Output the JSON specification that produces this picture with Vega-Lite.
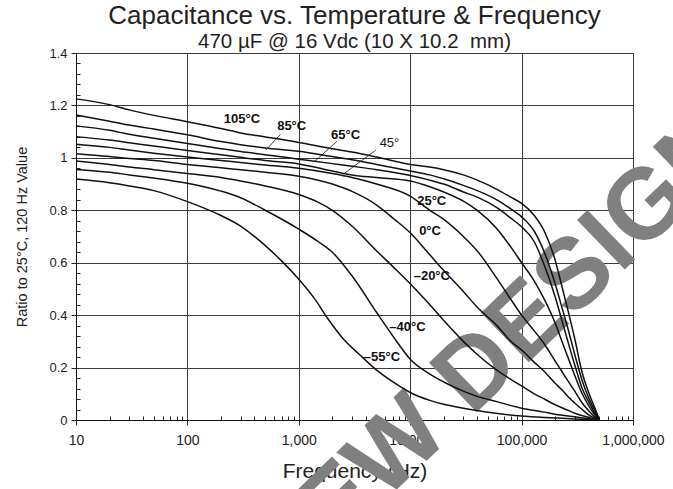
{
  "$schema": "https://vega.github.io/schema/vega-lite/v6.json",
  "width": 557,
  "height": 367,
  "autosize": {"type": "none"},
  "padding": {"left": 76, "top": 53, "right": 40, "bottom": 69},
  "background": "white",
  "title": {
    "text": "Capacitance vs. Temperature & Frequency",
    "subtitle": "470 µF @ 16 Vdc (10 X 10.2\u00a0 mm)",
    "font": "Liberation Sans",
    "subtitleFont": "Liberation Sans",
    "fontSize": 26,
    "subtitleFontSize": 20.5,
    "fontWeight": "normal",
    "subtitleFontWeight": "normal",
    "color": "#222222",
    "subtitleColor": "#222222",
    "anchor": "middle",
    "frame": "group",
    "offset": -6,
    "subtitlePadding": 3
  },
  "config": {"view": {"stroke": "#444444"}, "font": "Liberation Sans"},
  "datasets": {
    "curves": [
      {"s":"105","f":10,"v":1.225},{"s":"105","f":20,"v":1.203},{"s":"105","f":30,"v":1.183},{"s":"105","f":50,"v":1.162},{"s":"105","f":100,"v":1.138},{"s":"105","f":200,"v":1.112},{"s":"105","f":300,"v":1.095},{"s":"105","f":500,"v":1.08},{"s":"105","f":1000,"v":1.059},{"s":"105","f":2000,"v":1.035},{"s":"105","f":3000,"v":1.022},{"s":"105","f":5000,"v":1.003},{"s":"105","f":10000,"v":0.975},{"s":"105","f":15000,"v":0.965},{"s":"105","f":20000,"v":0.955},{"s":"105","f":30000,"v":0.935},{"s":"105","f":40000,"v":0.915},{"s":"105","f":60000,"v":0.88},{"s":"105","f":80000,"v":0.85},{"s":"105","f":100000,"v":0.826},{"s":"105","f":130000,"v":0.78},{"s":"105","f":160000,"v":0.72},{"s":"105","f":200000,"v":0.61},{"s":"105","f":230000,"v":0.51},{"s":"105","f":260000,"v":0.42},{"s":"105","f":300000,"v":0.31},{"s":"105","f":350000,"v":0.18},{"s":"105","f":400000,"v":0.105},{"s":"105","f":450000,"v":0.05},{"s":"105","f":500000,"v":0},
      {"s":"85","f":10,"v":1.164},{"s":"85","f":20,"v":1.14},{"s":"85","f":30,"v":1.125},{"s":"85","f":50,"v":1.11},{"s":"85","f":100,"v":1.088},{"s":"85","f":200,"v":1.062},{"s":"85","f":300,"v":1.05},{"s":"85","f":500,"v":1.038},{"s":"85","f":1000,"v":1.025},{"s":"85","f":2000,"v":1.005},{"s":"85","f":3000,"v":0.993},{"s":"85","f":5000,"v":0.975},{"s":"85","f":10000,"v":0.95},{"s":"85","f":15000,"v":0.935},{"s":"85","f":20000,"v":0.92},{"s":"85","f":30000,"v":0.895},{"s":"85","f":40000,"v":0.875},{"s":"85","f":60000,"v":0.84},{"s":"85","f":80000,"v":0.805},{"s":"85","f":100000,"v":0.775},{"s":"85","f":130000,"v":0.72},{"s":"85","f":160000,"v":0.64},{"s":"85","f":200000,"v":0.52},{"s":"85","f":230000,"v":0.43},{"s":"85","f":260000,"v":0.35},{"s":"85","f":300000,"v":0.25},{"s":"85","f":350000,"v":0.15},{"s":"85","f":400000,"v":0.085},{"s":"85","f":450000,"v":0.04},{"s":"85","f":500000,"v":0},
      {"s":"65","f":10,"v":1.122},{"s":"65","f":20,"v":1.105},{"s":"65","f":30,"v":1.09},{"s":"65","f":50,"v":1.075},{"s":"65","f":100,"v":1.055},{"s":"65","f":200,"v":1.035},{"s":"65","f":300,"v":1.024},{"s":"65","f":500,"v":1.012},{"s":"65","f":1000,"v":0.995},{"s":"65","f":2000,"v":0.978},{"s":"65","f":3000,"v":0.968},{"s":"65","f":5000,"v":0.955},{"s":"65","f":10000,"v":0.933},{"s":"65","f":15000,"v":0.915},{"s":"65","f":20000,"v":0.9},{"s":"65","f":30000,"v":0.87},{"s":"65","f":40000,"v":0.85},{"s":"65","f":60000,"v":0.81},{"s":"65","f":80000,"v":0.77},{"s":"65","f":100000,"v":0.737},{"s":"65","f":130000,"v":0.68},{"s":"65","f":160000,"v":0.59},{"s":"65","f":200000,"v":0.47},{"s":"65","f":230000,"v":0.38},{"s":"65","f":260000,"v":0.3},{"s":"65","f":300000,"v":0.21},{"s":"65","f":350000,"v":0.12},{"s":"65","f":400000,"v":0.07},{"s":"65","f":450000,"v":0.03},{"s":"65","f":500000,"v":0},
      {"s":"45","f":10,"v":1.081},{"s":"45","f":20,"v":1.068},{"s":"45","f":30,"v":1.058},{"s":"45","f":50,"v":1.045},{"s":"45","f":100,"v":1.028},{"s":"45","f":200,"v":1.012},{"s":"45","f":300,"v":1.002},{"s":"45","f":500,"v":0.99},{"s":"45","f":1000,"v":0.977},{"s":"45","f":2000,"v":0.95},{"s":"45","f":3000,"v":0.935},{"s":"45","f":5000,"v":0.925},{"s":"45","f":10000,"v":0.912},{"s":"45","f":15000,"v":0.89},{"s":"45","f":20000,"v":0.87},{"s":"45","f":30000,"v":0.835},{"s":"45","f":40000,"v":0.8},{"s":"45","f":60000,"v":0.73},{"s":"45","f":80000,"v":0.66},{"s":"45","f":100000,"v":0.6},{"s":"45","f":130000,"v":0.53},{"s":"45","f":160000,"v":0.46},{"s":"45","f":200000,"v":0.37},{"s":"45","f":230000,"v":0.3},{"s":"45","f":260000,"v":0.24},{"s":"45","f":300000,"v":0.17},{"s":"45","f":350000,"v":0.1},{"s":"45","f":400000,"v":0.055},{"s":"45","f":450000,"v":0.022},{"s":"45","f":500000,"v":0},
      {"s":"25","f":10,"v":1.052},{"s":"25","f":20,"v":1.04},{"s":"25","f":30,"v":1.03},{"s":"25","f":50,"v":1.018},{"s":"25","f":100,"v":1.003},{"s":"25","f":200,"v":0.99},{"s":"25","f":300,"v":0.982},{"s":"25","f":500,"v":0.973},{"s":"25","f":1000,"v":0.96},{"s":"25","f":2000,"v":0.94},{"s":"25","f":3000,"v":0.925},{"s":"25","f":5000,"v":0.9},{"s":"25","f":10000,"v":0.854},{"s":"25","f":15000,"v":0.8},{"s":"25","f":20000,"v":0.765},{"s":"25","f":30000,"v":0.7},{"s":"25","f":40000,"v":0.645},{"s":"25","f":60000,"v":0.54},{"s":"25","f":80000,"v":0.46},{"s":"25","f":100000,"v":0.4},{"s":"25","f":130000,"v":0.34},{"s":"25","f":160000,"v":0.29},{"s":"25","f":200000,"v":0.225},{"s":"25","f":230000,"v":0.185},{"s":"25","f":260000,"v":0.15},{"s":"25","f":300000,"v":0.11},{"s":"25","f":350000,"v":0.065},{"s":"25","f":400000,"v":0.035},{"s":"25","f":450000,"v":0.013},{"s":"25","f":500000,"v":0},
      {"s":"0","f":10,"v":1.016},{"s":"0","f":20,"v":1.005},{"s":"0","f":30,"v":0.998},{"s":"0","f":50,"v":0.99},{"s":"0","f":100,"v":0.975},{"s":"0","f":200,"v":0.962},{"s":"0","f":300,"v":0.955},{"s":"0","f":500,"v":0.945},{"s":"0","f":1000,"v":0.93},{"s":"0","f":2000,"v":0.9},{"s":"0","f":3000,"v":0.872},{"s":"0","f":5000,"v":0.82},{"s":"0","f":7000,"v":0.77},{"s":"0","f":10000,"v":0.714},{"s":"0","f":15000,"v":0.63},{"s":"0","f":20000,"v":0.57},{"s":"0","f":30000,"v":0.49},{"s":"0","f":40000,"v":0.43},{"s":"0","f":60000,"v":0.36},{"s":"0","f":80000,"v":0.3},{"s":"0","f":100000,"v":0.267},{"s":"0","f":130000,"v":0.22},{"s":"0","f":160000,"v":0.185},{"s":"0","f":200000,"v":0.14},{"s":"0","f":230000,"v":0.115},{"s":"0","f":260000,"v":0.09},{"s":"0","f":300000,"v":0.065},{"s":"0","f":350000,"v":0.04},{"s":"0","f":400000,"v":0.02},{"s":"0","f":450000,"v":0.008},{"s":"0","f":500000,"v":0},
      {"s":"-20","f":10,"v":0.988},{"s":"-20","f":20,"v":0.975},{"s":"-20","f":30,"v":0.965},{"s":"-20","f":50,"v":0.955},{"s":"-20","f":100,"v":0.94},{"s":"-20","f":200,"v":0.925},{"s":"-20","f":300,"v":0.912},{"s":"-20","f":500,"v":0.893},{"s":"-20","f":1000,"v":0.86},{"s":"-20","f":1500,"v":0.83},{"s":"-20","f":2000,"v":0.8},{"s":"-20","f":3000,"v":0.74},{"s":"-20","f":5000,"v":0.645},{"s":"-20","f":7000,"v":0.585},{"s":"-20","f":10000,"v":0.52},{"s":"-20","f":15000,"v":0.44},{"s":"-20","f":20000,"v":0.38},{"s":"-20","f":30000,"v":0.3},{"s":"-20","f":40000,"v":0.25},{"s":"-20","f":60000,"v":0.19},{"s":"-20","f":80000,"v":0.155},{"s":"-20","f":100000,"v":0.13},{"s":"-20","f":130000,"v":0.1},{"s":"-20","f":160000,"v":0.08},{"s":"-20","f":200000,"v":0.058},{"s":"-20","f":260000,"v":0.037},{"s":"-20","f":300000,"v":0.026},{"s":"-20","f":400000,"v":0.01},{"s":"-20","f":500000,"v":0},
      {"s":"-40","f":10,"v":0.956},{"s":"-40","f":20,"v":0.945},{"s":"-40","f":30,"v":0.935},{"s":"-40","f":50,"v":0.923},{"s":"-40","f":100,"v":0.903},{"s":"-40","f":200,"v":0.873},{"s":"-40","f":300,"v":0.848},{"s":"-40","f":500,"v":0.8},{"s":"-40","f":1000,"v":0.728},{"s":"-40","f":1500,"v":0.68},{"s":"-40","f":2000,"v":0.64},{"s":"-40","f":3000,"v":0.55},{"s":"-40","f":5000,"v":0.41},{"s":"-40","f":7000,"v":0.32},{"s":"-40","f":10000,"v":0.232},{"s":"-40","f":15000,"v":0.175},{"s":"-40","f":20000,"v":0.145},{"s":"-40","f":30000,"v":0.11},{"s":"-40","f":40000,"v":0.09},{"s":"-40","f":60000,"v":0.07},{"s":"-40","f":100000,"v":0.045},{"s":"-40","f":160000,"v":0.03},{"s":"-40","f":200000,"v":0.022},{"s":"-40","f":300000,"v":0.012},{"s":"-40","f":400000,"v":0.005},{"s":"-40","f":500000,"v":0},
      {"s":"-55","f":10,"v":0.919},{"s":"-55","f":20,"v":0.905},{"s":"-55","f":30,"v":0.893},{"s":"-55","f":50,"v":0.875},{"s":"-55","f":100,"v":0.833},{"s":"-55","f":200,"v":0.78},{"s":"-55","f":300,"v":0.74},{"s":"-55","f":500,"v":0.665},{"s":"-55","f":700,"v":0.607},{"s":"-55","f":1000,"v":0.537},{"s":"-55","f":1400,"v":0.46},{"s":"-55","f":1800,"v":0.39},{"s":"-55","f":2500,"v":0.31},{"s":"-55","f":3500,"v":0.25},{"s":"-55","f":5000,"v":0.19},{"s":"-55","f":7000,"v":0.145},{"s":"-55","f":10000,"v":0.105},{"s":"-55","f":15000,"v":0.075},{"s":"-55","f":20000,"v":0.06},{"s":"-55","f":30000,"v":0.045},{"s":"-55","f":50000,"v":0.03},{"s":"-55","f":100000,"v":0.015},{"s":"-55","f":200000,"v":0.008},{"s":"-55","f":300000,"v":0.004},{"s":"-55","f":500000,"v":0}
    ],
    "labels": [
      {"label":"105°C","f":309,"v":1.148},
      {"label":"85°C","f":863,"v":1.12},
      {"label":"65°C","f":2630,"v":1.088},
      {"label":"45°","f":6515,"v":1.057},
      {"label":"25°C","f":15600,"v":0.836},
      {"label":"0°C","f":15070,"v":0.72},
      {"label":"–20°C","f":15630,"v":0.548},
      {"label":"–40°C","f":9440,"v":0.353},
      {"label":"–55°C","f":5570,"v":0.24}
    ],
    "leaders": [
      {"f1":685,"v1":1.09,"f2":504,"v2":1.029},
      {"f1":2198,"v1":1.063,"f2":1378,"v2":0.985},
      {"f1":4910,"v1":1.029,"f2":2506,"v2":0.938}
    ],
    "mark": [
      {"t":"NEW DESIGNS","f":95000,"v":0.344}
    ]
  },
  "layer": [
    {
      "data": {"name": "mark"},
      "mark": {"type": "text", "angle": -44, "fontSize": 100, "fontWeight": "bold", "color": "#808080", "align": "center", "baseline": "middle", "font": "Liberation Sans"},
      "encoding": {
        "x": {"field": "f", "type": "quantitative", "scale": {"type": "log", "domain": [10, 1000000], "nice": false}, "axis": null},
        "y": {"field": "v", "type": "quantitative", "scale": {"domain": [0, 1.4], "nice": false, "zero": false}, "axis": null},
        "text": {"field": "t"}
      }
    },
    {
      "data": {"name": "curves"},
      "mark": {"type": "line", "color": "#111111", "strokeWidth": 1.5, "interpolate": "monotone"},
      "encoding": {
        "x": {"field": "f", "type": "quantitative", "scale": {"type": "log", "domain": [10, 1000000], "nice": false},
          "axis": {"orient": "bottom", "values": [10, 100, 1000, 10000, 100000, 1000000], "format": ",", "labelFlush": false, "labelOverlap": false, "labelFontSize": 14, "labelColor": "#222222", "labelFont": "Liberation Sans", "labelPadding": 8, "tickSize": 5, "tickColor": "#222222", "grid": true, "gridColor": "#3a3a3a", "gridWidth": 1, "domainColor": "#111111", "domainWidth": 1, "title": "Frequency (Hz)", "titleFontSize": 21, "titleFontWeight": "normal", "titleColor": "#222222", "titleFont": "Liberation Sans", "titlePadding": 13}},
        "y": {"field": "v", "type": "quantitative", "scale": {"domain": [0, 1.4], "nice": false, "zero": false},
          "axis": {"orient": "left", "values": [0, 0.2, 0.4, 0.6, 0.8, 1, 1.2, 1.4], "format": "~g", "labelFlush": false, "labelFontSize": 13, "labelColor": "#222222", "labelFont": "Liberation Sans", "labelPadding": 4, "tickSize": 5, "tickColor": "#222222", "grid": true, "gridColor": "#3a3a3a", "gridWidth": 1, "domainColor": "#111111", "domainWidth": 1, "title": "Ratio to 25°C, 120 Hz Value", "titleFontSize": 14.5, "titleFontWeight": "normal", "titleColor": "#222222", "titleFont": "Liberation Sans", "titlePadding": 19}},
        "detail": {"field": "s"}
      }
    },
    {
      "data": {"name": "curves"},
      "mark": {"type": "point", "opacity": 0},
      "encoding": {
        "x": {"field": "f", "type": "quantitative", "scale": {"type": "log", "domain": [10, 1000000], "nice": false},
          "axis": {"orient": "bottom", "values": [20,30,40,50,60,70,80,90,200,300,400,500,600,700,800,900,2000,3000,4000,5000,6000,7000,8000,9000,20000,30000,40000,50000,60000,70000,80000,90000,200000,300000,400000,500000,600000,700000,800000,900000], "labels": false, "grid": false, "domain": false, "tickSize": -4, "tickColor": "#222222", "title": null}},
        "y": {"field": "v", "type": "quantitative", "scale": {"domain": [0, 1.4], "nice": false, "zero": false},
          "axis": {"orient": "left", "values": [0.04,0.08,0.12,0.16,0.24,0.28,0.32,0.36,0.44,0.48,0.52,0.56,0.64,0.68,0.72,0.76,0.84,0.88,0.92,0.96,1.04,1.08,1.12,1.16,1.24,1.28,1.32,1.36], "labels": false, "grid": false, "domain": false, "tickSize": -4, "tickColor": "#222222", "title": null}}
      }
    },
    {
      "data": {"name": "leaders"},
      "mark": {"type": "rule", "color": "#111111", "strokeWidth": 0.8},
      "encoding": {
        "x": {"field": "f1", "type": "quantitative", "scale": {"type": "log", "domain": [10, 1000000], "nice": false}, "axis": null},
        "x2": {"field": "f2"},
        "y": {"field": "v1", "type": "quantitative", "scale": {"domain": [0, 1.4], "nice": false, "zero": false}, "axis": null},
        "y2": {"field": "v2"}
      }
    },
    {
      "data": {"name": "labels"},
      "transform": [{"filter": "datum.label != '45°'"}],
      "mark": {"type": "text", "fontSize": 13, "fontWeight": "bold", "color": "#111111", "align": "center", "baseline": "middle", "font": "Liberation Sans"},
      "encoding": {
        "x": {"field": "f", "type": "quantitative", "scale": {"type": "log", "domain": [10, 1000000], "nice": false}, "axis": null},
        "y": {"field": "v", "type": "quantitative", "scale": {"domain": [0, 1.4], "nice": false, "zero": false}, "axis": null},
        "text": {"field": "label"}
      }
    },
    {
      "data": {"name": "labels"},
      "transform": [{"filter": "datum.label == '45°'"}],
      "mark": {"type": "text", "fontSize": 13, "fontWeight": "normal", "color": "#111111", "align": "center", "baseline": "middle", "font": "Liberation Sans"},
      "encoding": {
        "x": {"field": "f", "type": "quantitative", "scale": {"type": "log", "domain": [10, 1000000], "nice": false}, "axis": null},
        "y": {"field": "v", "type": "quantitative", "scale": {"domain": [0, 1.4], "nice": false, "zero": false}, "axis": null},
        "text": {"field": "label"}
      }
    }
  ],
  "resolve": {"axis": {"x": "independent", "y": "independent"}}
}
